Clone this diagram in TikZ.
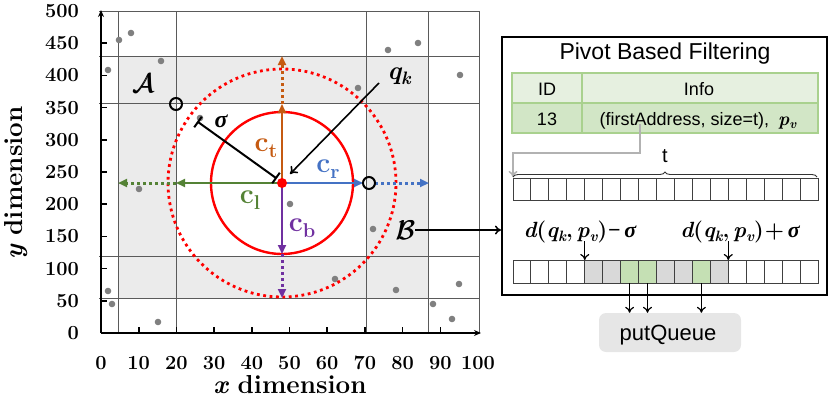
\RequirePackage{fix-cm}
\documentclass[tikz,border=0pt]{standalone}
\usepackage{fontspec}
\newfontfamily\arialf{Liberation Sans}
\newfontfamily\greekf{Liberation Serif}
\usetikzlibrary{arrows.meta,decorations.pathreplacing,calc}
\definecolor{cOr}{HTML}{C55A11}
\definecolor{cBl}{HTML}{4472C4}
\definecolor{cGr}{HTML}{548235}
\definecolor{cPu}{HTML}{7030A0}
\definecolor{bgshade}{HTML}{EBEBEB}
\definecolor{tgrid}{HTML}{5A5A5A}
\definecolor{tbhead}{HTML}{E6F0E0}
\definecolor{tbrow}{HTML}{D2E6C6}
\definecolor{tbline}{HTML}{A9D18E}
\definecolor{cellgray}{HTML}{D9D9D9}
\definecolor{cellgreen}{HTML}{C5E0B4}
\definecolor{pqfill}{HTML}{E6E6E6}
\newcommand{\bv}[1]{{\bfseries\itshape #1}}
\newcommand{\bsig}{{\greekf\bfseries\itshape σ}}
\tikzset{
  ticklab/.style={font=\fontsize{20}{22}\selectfont\bfseries, inner sep=0pt},
  axlab/.style={font=\fontsize{26}{28}\selectfont\bfseries, inner sep=0pt},
  gridl/.style={draw=tgrid, line width=0.8pt},
  pdot/.style={fill=black!50},
  carrow/.style={line width=2pt, -{Triangle[length=9pt,width=8pt]}},
  cdotted/.style={line width=3pt, dash pattern=on 3pt off 3pt, -{Triangle[length=9pt,width=8pt]}},
  clab/.style={font=\fontsize{28}{30}\selectfont\bfseries, inner sep=0pt},
  mlab/.style={font=\fontsize{24}{26}\selectfont, inner sep=0pt},
  callab/.style={font=\fontsize{27}{29}\selectfont, inner sep=0pt},
  hollow/.style={draw=black, line width=2pt},
  sans/.style={font=\arialf\fontsize{18}{20}\selectfont, inner sep=0pt},
  cellst/.style={draw=black!75, line width=0.9pt},
  openarr/.style={line width=1.2pt, -{To[length=6pt,width=9pt]}},
}
\begin{document}
\begin{tikzpicture}[x=1pt,y=-1pt]
\useasboundingbox (0,0) rectangle (831,399);
% ---------------- left plot ----------------
\fill[bgshade, even odd rule] (118,56) rectangle (428,298) (176,103) rectangle (366,256);
\foreach \gx in {118,176,366,428,479} \draw[gridl] (\gx,11) -- (\gx,333);
\foreach \gy in {11,56,103,256,298} \draw[gridl] (99,\gy) -- (479,\gy);
% data points
\foreach \px/\py in {108/70,119/40,131/33,161/61,139/189,108/291,112/304,158/322,200/118,358/88,388/50,418/43,460/75,290/204,373/229,335/279,396/290,459/284,433/304,452/319}
  \fill[pdot] (\px,\py) circle[radius=3.3pt];
% centre and circles
\coordinate (ctr) at (282,183);
\draw[red, line width=2.8pt, dash pattern=on 2.8pt off 3.6pt] (ctr) circle[radius=114pt];
\draw[red, line width=2.4pt] (ctr) circle[radius=71pt];
% coordinate targets
\coordinate (tIn) at (282,104);   \coordinate (tOut) at (282,56);
\coordinate (lIn) at (176,183);   \coordinate (lOut) at (118,183);
\coordinate (rIn) at (363,183);   \coordinate (rOut) at (429,183);
\coordinate (rDot) at (375,183);
\coordinate (bIn) at (282,254);   \coordinate (bOut) at (282,298);
\draw[carrow, cOr] (ctr) -- (tIn);
\draw[cdotted, cOr] (tIn) -- (tOut);
\draw[carrow, cGr] (ctr) -- (lIn);
\draw[cdotted, cGr] (lIn) -- (lOut);
\draw[carrow, cBl] (ctr) -- (rIn);
\draw[cdotted, cBl] (rDot) -- (rOut);
\draw[carrow, cPu] (ctr) -- (bIn);
\draw[cdotted, cPu] (bIn) -- (bOut);
% hollow circles
\node[hollow, circle, minimum size=12pt, inner sep=0pt] (hc1) at (176,104) {};
\node[hollow, circle, minimum size=12pt, inner sep=0pt] (hc2) at (369,183) {};
% sigma bar
\coordinate (sA) at (198,122);
\coordinate (sB) at (276,178);
\draw[line width=2pt] (sA) -- (sB);
\draw[line width=2pt] ($(sA)!6.5pt!90:(sB)$) -- ($(sA)!6.5pt!-90:(sB)$);
\draw[line width=2pt] ($(sB)!6.5pt!90:(sA)$) -- ($(sB)!6.5pt!-90:(sA)$);
\node[mlab] (sig) at (221,121) {\bsig};
% centre dot
\fill[red] (ctr) circle[radius=5pt];
% q_k
\node[mlab, font=\fontsize{26}{28}\selectfont] (qk) at (399,76) {\bv{q}\raisebox{-5pt}{\fontsize{18}{18}\selectfont\bv{k}}};
\coordinate (qs) at (379,83);
\coordinate (qe) at (290,174);
\draw[line width=1.6pt, -{To[length=7pt,width=10pt]}] (qs) -- (qe);
% c labels
\node[clab, text=cOr] (ct) at (266,148) {c\raisebox{-6pt}{\fontsize{20}{20}\selectfont t}};
\node[clab, text=cBl] (cr) at (328,169) {c\raisebox{-6pt}{\fontsize{20}{20}\selectfont r}};
\node[clab, text=cGr] (cl) at (250,200) {c\raisebox{-6pt}{\fontsize{20}{20}\selectfont l}};
\node[clab, text=cPu] (cb) at (302,228) {c\raisebox{-6pt}{\fontsize{20}{20}\selectfont b}};
% A and B (doubled for a bolder stroke)
\node[callab] (A) at (143,83) {$\mathcal{A}$};
\node[callab] (A2) at (144,83) {$\mathcal{A}$};
\node[callab] (B) at (405,230) {$\mathcal{B}$};
\node[callab] (B2) at (406,230) {$\mathcal{B}$};
% axes
\coordinate (orig) at (101,333);
\draw[line width=1.8pt, -{Stealth[length=7pt,width=6pt]}] (orig) -- (101,10);
\draw[line width=1.8pt, -{Stealth[length=7pt,width=6pt]}] (orig) -- (481,333);
\foreach \k in {1,...,9} \draw[line width=1.6pt] (101+37.7*\k,333) -- (101+37.7*\k,327);
\foreach \k in {1,...,9} \draw[line width=1.6pt] (101,333-32.2*\k) -- (107,333-32.2*\k);
\foreach \v in {0,50,...,500} \node[ticklab, anchor=base east] at (79,333-0.644*\v+6.4) {\v};
\foreach \k in {0,...,10} {\pgfmathtruncatemacro{\lab}{10*\k}
  \node[ticklab, anchor=base] at (101+37.7*\k,369) {\lab};}
\node[axlab, anchor=base] (xl) at (290,393) {\bv{x} dimension};
\node[axlab, anchor=base, rotate=90] (yl) at (23,183) {\bv{y} dimension};
% ---------------- right panel ----------------
\node[draw, line width=1.8pt, minimum width=325pt, minimum height=258pt, inner sep=0pt, anchor=north west] (panel) at (501,36) {};
\draw[openarr, line width=1.5pt] (B2.east) -- (B2.east -| panel.west);
\node[sans, font=\arialf\fontsize{23}{25}\selectfont, anchor=base] (title) at (665,59) {Pivot Based Filtering};
% table
\fill[tbhead] (512,73) rectangle (818,103);
\fill[tbrow] (512,103) rectangle (818,133);
\draw[tbline, line width=1.5pt] (512,73) rectangle (818,133) (512,103) -- (818,103) (582,73) -- (582,133);
\node[sans, anchor=base] (idh) at (547,95) {ID};
\node[sans, anchor=base] (infoh) at (699,95) {Info};
\node[sans, anchor=base] (id13) at (547,125) {13};
\node[sans, anchor=base] (info2) at (698,125) {(firstAddress, size=t),\enspace{\rmfamily\fontsize{19}{20}\selectfont\bv{p}\raisebox{-3pt}{\fontsize{13}{13}\selectfont\bv{v}}}};
% top array
\foreach \i in {0,...,16} \draw[cellst] (513+17.94*\i,178) rectangle ++(17.94,22);
\coordinate (fa) at (640,124);
\coordinate (arrTop) at (513,177);
\draw[black!30, line width=1.5pt, -{To[length=6pt,width=9pt]}] (fa) -- ++(0,29) -| (arrTop);
\draw[line width=0.9pt, black!80, decorate, decoration={brace, amplitude=5pt}] (513,177) -- (817,177);
\node[sans, font=\arialf\fontsize{20}{22}\selectfont, anchor=base] (tlab) at (665,162) {t};
% bottom array
\foreach \i/\c in {4/cellgray,5/cellgray,6/cellgreen,7/cellgreen,8/cellgray,9/cellgray,10/cellgreen,11/cellgray}
  \fill[\c] (513+17.94*\i,260) rectangle ++(17.94,23);
\foreach \i in {0,...,16} \draw[cellst] (513+17.94*\i,260) rectangle ++(17.94,23);
\node[inner sep=0pt, font=\fontsize{22}{24}\selectfont\bfseries, anchor=base] (dminus) at (580,237)
  {\bv{d}(\bv{q}\raisebox{-4pt}{\fontsize{15}{15}\selectfont\bv{k}},\,\bv{p}\raisebox{-4pt}{\fontsize{15}{15}\selectfont\bv{v}})\kern1pt{\greekf−}\,\bsig};
\node[inner sep=0pt, font=\fontsize{22}{24}\selectfont\bfseries, anchor=base] (dplus) at (740,237)
  {\bv{d}(\bv{q}\raisebox{-4pt}{\fontsize{15}{15}\selectfont\bv{k}},\,\bv{p}\raisebox{-4pt}{\fontsize{15}{15}\selectfont\bv{v}})\kern1pt+\,\bsig};
\coordinate (lo) at (584.8,260);
\coordinate (hi) at (728.3,260);
\coordinate (loS) at (584.8,241);
\coordinate (hiS) at (728.3,241);
\draw[openarr] (loS) -- (lo);
\draw[openarr] (hiS) -- (hi);
% putQueue
\node[fill=pqfill, rounded corners=7pt, minimum width=142pt, minimum height=39pt, inner sep=0pt] (pq) at (670,332.5) {};
\node[sans, font=\arialf\fontsize{22}{24}\selectfont, anchor=base] (pqt) at (668,340) {putQueue};
\foreach \cx in {629.6,647.5,701.4} \draw[openarr] (\cx,283) -- (\cx,283 |- pq.north);
\end{tikzpicture}
\end{document}
